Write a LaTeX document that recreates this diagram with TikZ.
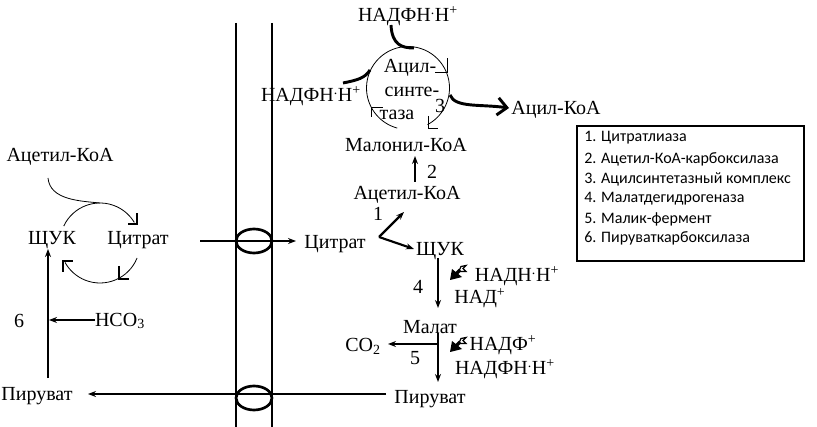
\documentclass[tikz,border=0pt]{standalone}
\usepackage{fontspec}
\setmainfont{Liberation Serif}
\newfontfamily\legfont{Carlito}
\usetikzlibrary{arrows.meta,shapes.geometric}
\newcommand{\supplus}{\textsuperscript{+}}
\newcommand{\supdot}{\textsuperscript{.}}
\begin{document}
\begin{tikzpicture}[x=0.75pt,y=-0.75pt,
  lbl/.style={inner sep=0pt, font=\fontsize{15}{17}\selectfont},
  leg/.style={inner sep=0pt, anchor=west, font=\legfont\fontsize{12}{14}\selectfont},
  thickline/.style={line width=2.2pt},
  midline/.style={line width=1.6pt},
  thinline/.style={line width=0.6pt},
  tick/.style={line width=1.8pt},
  arr/.style={-{Stealth[length=6pt,width=4.5pt]}},
  membrane/.style={line width=1.6pt},
  bentarrow/.pic={
    \fill (-1,15) -- (1,4) -- (11,12) -- cycle;
    \draw[line width=2.6pt] (5,9) -- (9,5);
    \draw[line width=0.9pt, line join=miter] (8,6) -- (10,1.5) -- (15,0.5) -- (12,3.5) -- (15,6.5) -- (9,6.5);
  },
]
\useasboundingbox (0,0) rectangle (817,427);

% membrane
\coordinate (m1t) at (236,23); \coordinate (m1b) at (236,427);
\coordinate (m2t) at (272,23); \coordinate (m2b) at (272,427);
\draw[membrane] (m1t) -- (m1b);
\draw[line width=2.2pt] (m2t) -- (m2b);
\node[draw, line width=2pt, ellipse, minimum width=27pt, minimum height=18pt, inner sep=0pt] (carrier1) at (254,241) {};
\node[draw, line width=2pt, ellipse, minimum width=27pt, minimum height=18pt, inner sep=0pt] (carrier2) at (254,398) {};

% ---- left (mitochondrion) ----
\node[lbl] (acoaL) at (60,157) {Ацетил-КоА};
\node[lbl] (shchukL) at (52,240) {ЩУК};
\node[lbl] (citL) at (138,240) {Цитрат};
\node[lbl] (hco3) at (120,321) {HCO\textsubscript{3}};
\node[lbl] (six) at (19,321) {6};
\node[lbl] (pyrL) at (37,396) {Пируват};

\coordinate (cycleL) at (100,243);
\draw[thinline] (48,178) .. controls (50,200) and (80,201) .. (100,203);
\draw[thinline] (cycleL) ++(-155:40) arc[start angle=-155, end angle=-31, radius=40];
\draw[thinline] (cycleL) ++(22:40) arc[start angle=22, end angle=151, radius=40];
\draw[tick] (128,224) -- (137,224) -- (137,213);
\draw[tick] (119,266) -- (119,279) -- (129,279);
\draw[tick] (63,272) -- (63,261) -- (73,261);

\coordinate (vL1) at (48,378); \coordinate (vL2) at (48,249);
\draw[thickline, arr] (vL1) -- (vL2);
\coordinate (hcoA) at (95,320); \coordinate (hcoB) at (49,320);
\draw[midline, arr] (hcoA) -- (hcoB);

% transport arrows
\coordinate (citA) at (200,241); \coordinate (citB) at (296,241);
\draw[midline, arr] (citA) -- (citB);
\coordinate (pyrA) at (386,394); \coordinate (pyrB) at (88,394);
\draw[thickline, arr] (pyrA) -- (pyrB);

% ---- right (cytosol) ----
\node[lbl] (citR) at (335,244) {Цитрат};
\node[lbl] (one) at (378,214) {1};
\node[lbl] (acoaR) at (407,195) {Ацетил-КоА};
\node[lbl] (shchukR) at (440,251) {ЩУК};
\node[lbl] (two) at (432,172) {2};
\node[lbl] (malonyl) at (406,145) {Малонил-КоА};
\node[lbl] (four) at (418,287) {4};
\node[lbl] (nadh) at (517,276) {НАДН\supdot Н\supplus};
\node[lbl] (nad) at (480,298) {НАД\supplus};
\node[lbl] (malate) at (430,327) {Малат};
\node[lbl] (co2) at (363,346) {CO\textsubscript{2}};
\node[lbl] (five) at (415,358) {5};
\node[lbl] (nadp) at (503,345) {НАДФ\supplus};
\node[lbl] (nadphB) at (505,369) {НАДФН\supdot Н\supplus};
\node[lbl] (pyrR) at (430,399) {Пируват};

\coordinate (v1) at (379,237);
\coordinate (v1a) at (404,212);
\coordinate (v1b) at (414,249);
\draw[midline, arr] (v1) -- (v1a);
\draw[midline, arr] (v1) -- (v1b);

\coordinate (a2a) at (415,182); \coordinate (a2b) at (415,156);
\draw[thickline, arr] (a2a) -- (a2b);

\coordinate (a4a) at (438,258); \coordinate (a4b) at (438,308);
\draw[thickline, arr] (a4a) -- (a4b);
\coordinate (a5a) at (438,333); \coordinate (a5b) at (438,382);
\draw[thickline, arr] (a5a) -- (a5b);
\coordinate (a5c) at (438,344); \coordinate (a5d) at (388,344);
\draw[thickline, arr] (a5c) -- (a5d);

\pic at (451,265) {bentarrow};
\pic at (451,337) {bentarrow};

% acyl synthetase cycle
\node[lbl] (nadphT) at (408,16) {НАДФН\supdot Н\supplus};
\node[lbl] (nadphL) at (311,96) {НАДФН\supdot Н\supplus};
\node[lbl] (acyl) at (556,110) {Ацил-КоА};
\node[lbl] (t1) at (410,68) {Ацил-};
\node[lbl] (t2) at (412,92) {синте-};
\node[lbl] (t3) at (397,115) {таза};
\node[lbl] (three) at (440,106) {3};

\coordinate (cycleR) at (408,88);
\draw[thinline] (cycleR) ++(-95:41.5) arc[start angle=-95, end angle=62, radius=41.5];
\draw[thinline] (cycleR) ++(-95:41.5) arc[start angle=-95, end angle=-255, radius=41.5];
\draw[thinline] (435,72) -- (447,72) -- (447,58);
\draw[thinline] (428,116) -- (428,128) -- (438,128);
\draw[thinline] (371,117) -- (371,107) -- (383,107);
\draw[thickline] (391,25) .. controls (392,45) and (402,48) .. (414,48);
\draw[thickline] (343,83) .. controls (358,80) and (365,78) .. (370,70);
\coordinate (acylA) at (450,95); \coordinate (acylB) at (509,108);
\draw[thickline, -{Straight Barb[length=7pt,width=13pt]}] (acylA) .. controls (455,108) and (480,104) .. (acylB);

% legend
\coordinate (legNW) at (577,126); \coordinate (legSE) at (804,261);
\draw[line width=0.8pt] (legNW) rectangle (legSE);
\node[leg] (l1) at (584,138) {1. Цитратлиаза};
\node[leg] (l2) at (584,159) {2. Ацетил-КоА-карбоксилаза};
\node[leg] (l3) at (584,179) {3. Ацилсинтетазный комплекс};
\node[leg] (l4) at (584,199) {4. Малатдегидрогеназа};
\node[leg] (l5) at (584,219) {5. Малик-фермент};
\node[leg] (l6) at (584,238) {6. Пируваткарбоксилаза};
\end{tikzpicture}
\end{document}
